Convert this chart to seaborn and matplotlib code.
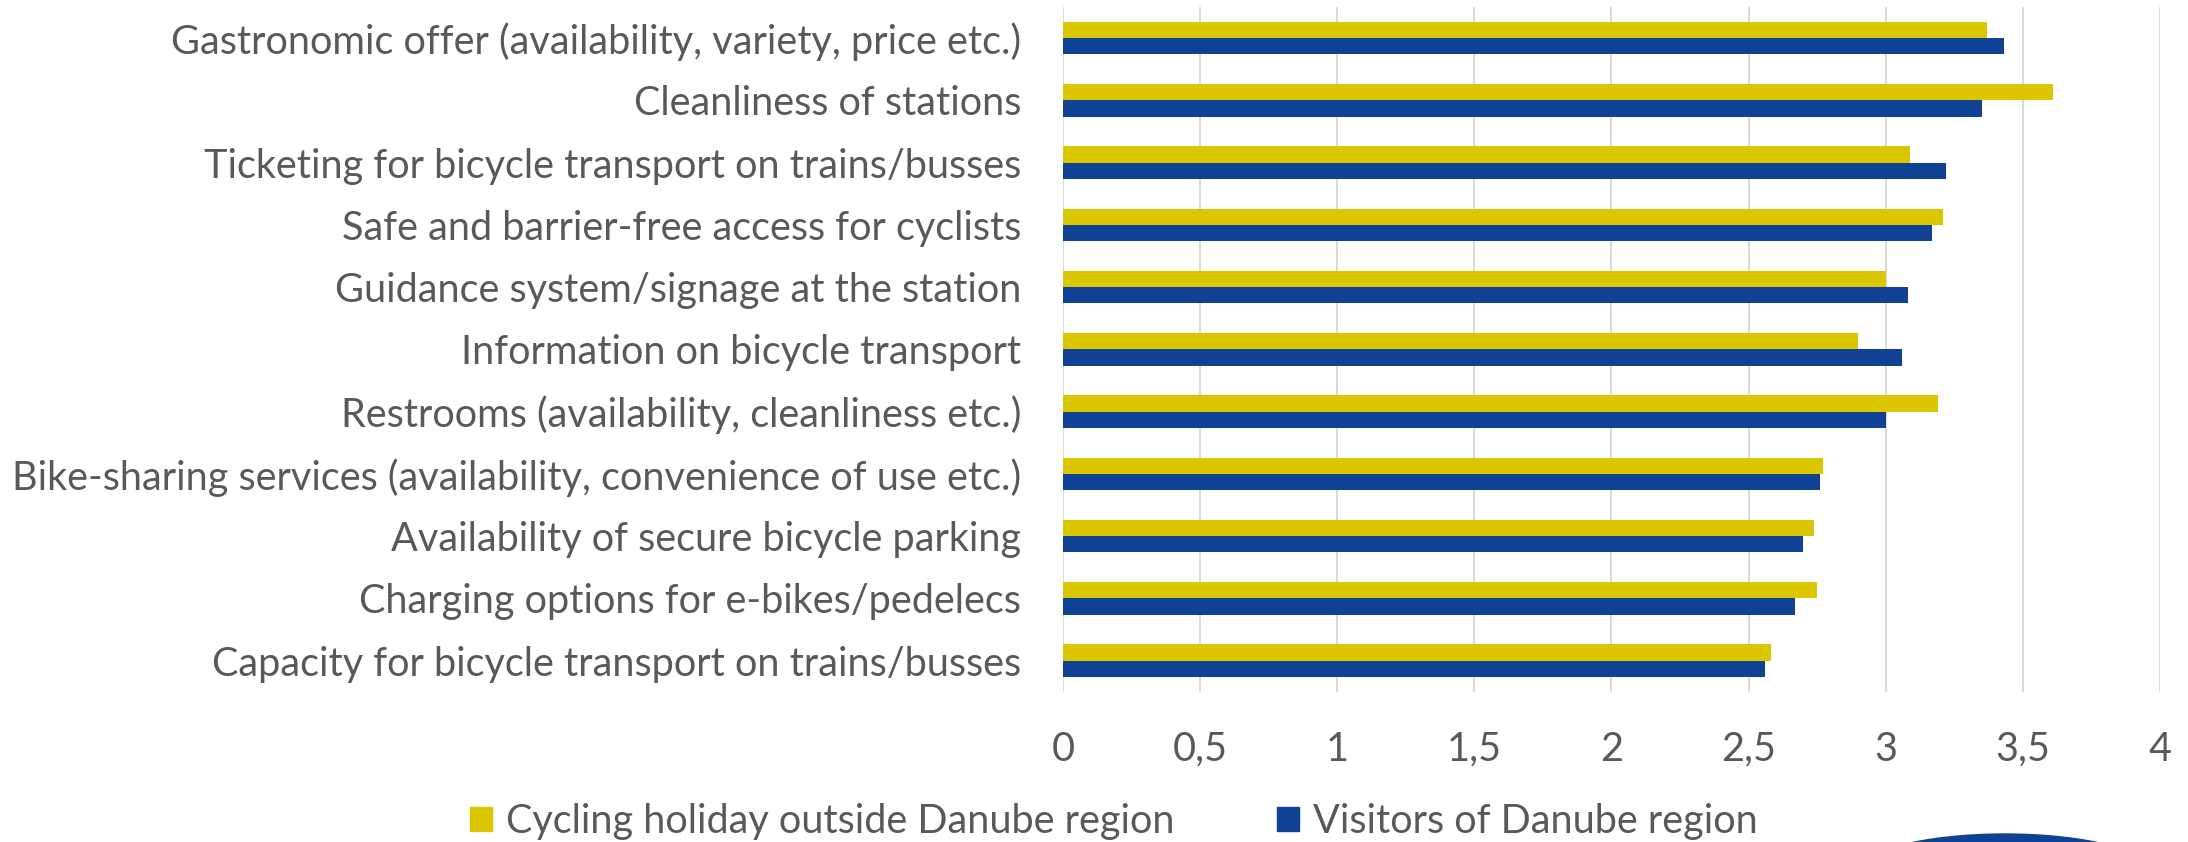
import matplotlib
matplotlib.use("Agg")
import matplotlib.pyplot as plt
from matplotlib.patches import Ellipse
from matplotlib.ticker import FuncFormatter
import pandas as pd
import seaborn as sns

categories = [
    "Gastronomic offer (availability, variety, price etc.)",
    "Cleanliness of stations",
    "Ticketing for bicycle transport on trains/busses",
    "Safe and barrier-free access for cyclists",
    "Guidance system/signage at the station",
    "Information on bicycle transport",
    "Restrooms (availability, cleanliness etc.)",
    "Bike-sharing services (availability, convenience of use etc.)",
    "Availability of secure bicycle parking",
    "Charging options for e-bikes/pedelecs",
    "Capacity for bicycle transport on trains/busses",
]
series_names = ["Cycling holiday outside Danube region", "Visitors of Danube region"]
outside_danube = [3.37, 3.61, 3.09, 3.21, 3.00, 2.90, 3.19, 2.77, 2.74, 2.75, 2.58]
danube_visitors = [3.43, 3.35, 3.22, 3.17, 3.08, 3.06, 3.00, 2.76, 2.70, 2.67, 2.56]
x_ticks = [0, 0.5, 1, 1.5, 2, 2.5, 3, 3.5, 4]

colors = ["#DAC700", "#0F4194"]
text_color = "#595959"
grid_color = "#D9D9D9"
font = "Lato"
fsize = 28.5

df = pd.DataFrame({
    "item": categories * 2,
    "score": outside_danube + danube_visitors,
    "group": [series_names[0]] * len(categories) + [series_names[1]] * len(categories),
})

sns.set_theme(style="white")
plt.rcParams["font.family"] = [font, "DejaVu Sans"]

fig = plt.figure(figsize=(21.88, 8.42), dpi=100)
ax = fig.add_axes([0.4858, 0.1785, 0.5014, 0.8132])

sns.barplot(
    data=df, y="item", x="score", hue="group", orient="h",
    order=categories, hue_order=series_names, palette=colors,
    width=0.52, gap=0, saturation=1, errorbar=None, ax=ax, legend=False,
    linewidth=0,
)

ax.set_xlim(0, 4)
ax.set_ylim(len(categories) - 0.5, -0.5)
ax.set_xticks(x_ticks)
ax.xaxis.set_major_formatter(FuncFormatter(lambda v, _: f"{v:g}".replace(".", ",")))
ax.grid(axis="x", color=grid_color, linewidth=1.4)
ax.set_axisbelow(True)
for s in ax.spines.values():
    s.set_visible(False)
ax.tick_params(axis="both", length=0, labelsize=fsize, labelcolor=text_color)
ax.tick_params(axis="x", pad=28)
ax.tick_params(axis="y", pad=30)
ax.set_xlabel("")
ax.set_ylabel("")

handles = [plt.Rectangle((0, 0), 1, 1, color=c) for c in colors]
fig.legend(
    handles, series_names, loc="center", bbox_to_anchor=(0.509, 0.024),
    ncol=2, frameon=False, fontsize=fsize, labelcolor=text_color,
    handlelength=0.55, handleheight=0.55, handletextpad=0.35, columnspacing=2.6,
    borderaxespad=0, borderpad=0,
)

# partial emblem at the lower right edge
fig.patches.append(Ellipse((2005 / 2188, (842 - 834 - 40) / 842), 300 / 2188, 80 / 842,
                           transform=fig.transFigure, color="#0F4194", zorder=5))

fig.savefig("out.png", dpi=100, facecolor="white")
